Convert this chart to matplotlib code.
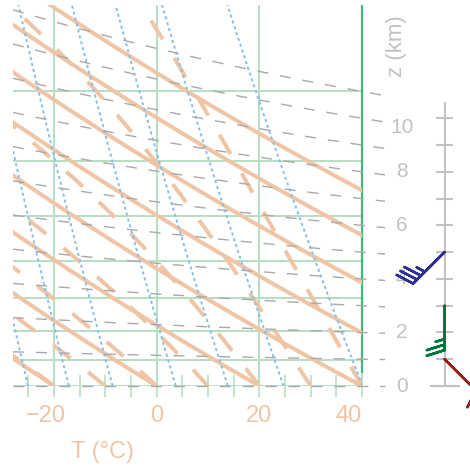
import numpy as np
import matplotlib
matplotlib.use("Agg")
import matplotlib.pyplot as plt
from matplotlib.transforms import ScaledTranslation

plt.rcParams["font.family"] = ["Liberation Sans", "DejaVu Sans"]
plt.rcParams["lines.scale_dashes"] = False

# diagram range (T in degC, p in hPa)
t_min, t_max = -28.0, 40.0
p_bottom, p_top = 1000.0, 211.7

# background line families
dry_theta_c = [-20, 0, 20, 40, 60, 80, 100, 120]   # potential temperature (degC at 1000 hPa)
moist_t0_c = [-20, -10, 0, 10, 20, 30, 40]         # pseudo-adiabats, degC at 1000 hPa
mix_ratios = [0.5, 1, 2, 5, 10, 20, 50]             # g/kg
heights_km = list(range(0, 12))                     # constant height lines
isobars = [1000, 900, 800, 700, 600, 500, 400, 300]
major_t = [-20, 0, 20, 40]
major_labels = ["\u221220", "0", "20", "40"]
minor_t = [-25, -15, -10, -5, 5, 10, 15, 25, 30, 35]

# height axis and wind barbs
z_ticks = list(range(0, 11))
z_labels = [0, 2, 4, 6, 8, 10]
wind_z = [1, 3, 5]
wind_u = [-7.07, 0.0, 24.75]
wind_v = [7.07, 25.0, 24.75]
wind_colors = ["#9b1d20", "#00773a", "#2e3192"]

salmon = "#f0c5a6"
green = "#b6e0c2"
blue = "#86bfe8"
gray = "#a9a9a9"
zgray = "#c2c2c2"

Rd, cp, Lv, eps, g = 287.05, 1005.7, 2.501e6, 0.622, 9.80665
kappa = Rd / cp


def sat_vp(tc):
    return 6.112 * np.exp(17.67 * tc / (tc + 243.5))


def moist_rate(tk, p):
    e = sat_vp(tk - 273.15)
    r = eps * e / (p - e)
    return (Rd * tk + Lv * r) / (cp + Lv * Lv * r * eps / (Rd * tk * tk))


def moist_line(t0, p):
    lnp = np.log(p)
    t = np.empty_like(p)
    t[0] = t0 + 273.15
    for i in range(len(p) - 1):
        h = lnp[i + 1] - lnp[i]
        pm = np.exp(lnp[i] + h / 2)
        k1 = moist_rate(t[i], p[i])
        k2 = moist_rate(t[i] + h * k1 / 2, pm)
        k3 = moist_rate(t[i] + h * k2 / 2, pm)
        k4 = moist_rate(t[i] + h * k3, p[i + 1])
        t[i + 1] = t[i] + h * (k1 + 2 * k2 + 2 * k3 + k4) / 6
    return t - 273.15


def p_of_z(z, tc=40.0):
    return 1000.0 * np.exp(-g * np.asarray(z, float) * 1000 / (Rd * (tc + 273.15)))


fig = plt.figure(figsize=(4.70, 4.67), dpi=100)
ax = fig.add_axes([13 / 470, 81 / 467, 349 / 470, 381 / 467])
ax.set_yscale("log")
ax.set_xlim(t_min, t_max)
ax.set_ylim(p_bottom, p_top)
for s in ax.spines.values():
    s.set_visible(False)
ax.tick_params(axis="y", which="both", left=False, labelleft=False)

p = np.geomspace(1000, 200, 300)

# grid
ax.hlines(isobars, t_min, t_max, color=green, lw=1.4, zorder=1)
ax.vlines(major_t, p_bottom, p_top, color=green, lw=1.4, zorder=1, clip_on=False)
ax.vlines(40, 950, p_top, color="#3cb878", lw=1.6, zorder=1.5, clip_on=False)

# dry adiabats
for th in dry_theta_c:
    ax.plot((th + 273.15) * (p / 1000) ** kappa - 273.15, p, color=salmon, lw=2.9,
            solid_capstyle="butt", zorder=2)

# moist adiabats
for t0 in moist_t0_c:
    ax.plot(moist_line(t0, p), p, color=salmon, lw=2.9, dashes=(16, 16),
            dash_capstyle="butt", zorder=2.2)

# mixing ratio lines
for w in mix_ratios:
    e = w / 1000 * p / (eps + w / 1000)
    a = np.log(e / 6.112)
    ax.plot(243.5 * a / (17.67 - a), p, color=blue, lw=1.4, dashes=(2.2, 2.2), zorder=3)

# constant height lines
tz = np.linspace(t_min, 44.5, 120)
for z in heights_km:
    ax.plot(tz, p_of_z(z, tz), color=gray, lw=1.0, dashes=(8, 8.5), zorder=4,
            clip_on=False)

# x axis
ax.set_xticks(major_t, labels=major_labels)
ax.set_xticks(minor_t, minor=True)
ax.tick_params(axis="x", which="both", direction="inout", length=15.8, width=1.2,
               color=green, labelcolor=salmon, labelsize=17, pad=6)
tl = ax.get_xticklabels()
tl[0].set_transform(tl[0].get_transform() + ScaledTranslation(-0.08, 0, fig.dpi_scale_trans))
tl[-1].set_horizontalalignment("right")
ax.text(0.256, -0.173, "T (°C)", transform=ax.transAxes, ha="center", va="center",
        fontsize=17, color=salmon)

# height axis on the right
zaxis_t = 56.1
ax.vlines(zaxis_t, p_of_z(0), p_of_z(10.6), color=zgray, lw=1.5, clip_on=False)
ax.hlines(p_of_z(z_ticks), zaxis_t - 1.65, zaxis_t + 1.65, color=zgray, lw=1.5,
          clip_on=False)
ax.hlines(p_of_z(0), zaxis_t - 2.9, zaxis_t + 2.9, color=zgray, lw=1.5, clip_on=False)
for z in z_labels:
    ax.text(47.75, p_of_z(z), str(z), ha="center", va="top" if z == 10 else "center",
            fontsize=15, color=zgray)
ax.text(46.8, 250, "z (km)", rotation=90, ha="center", va="center", fontsize=16,
        color=zgray)

ax.barbs([zaxis_t] * len(wind_z), p_of_z(wind_z), wind_u, wind_v,
         barbcolor=wind_colors, length=8, linewidth=1.8, clip_on=False, zorder=6)

fig.savefig("out.png", dpi=100, facecolor="white")
